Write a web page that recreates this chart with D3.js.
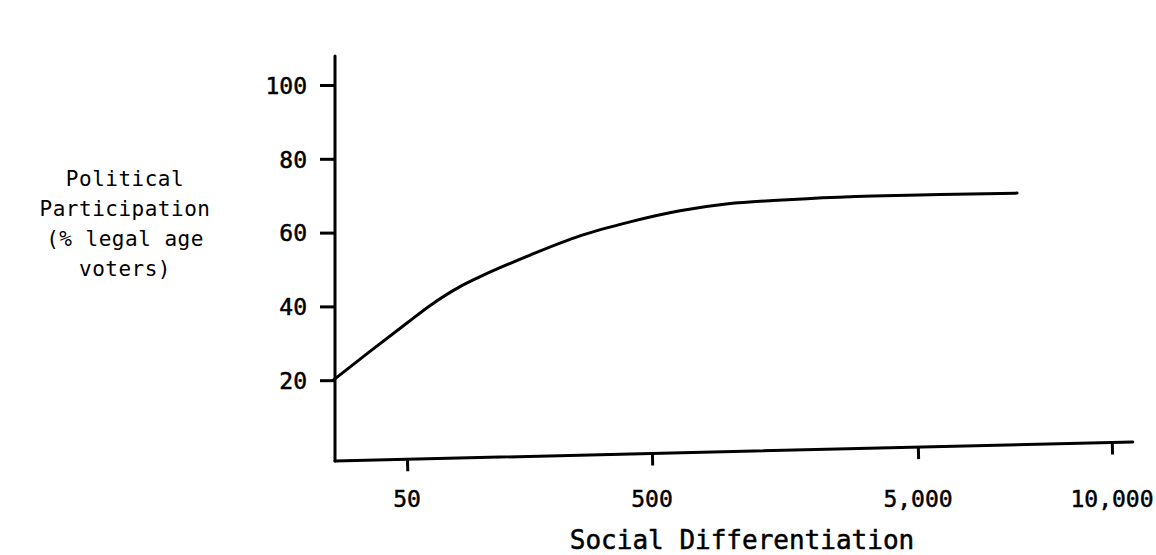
<!DOCTYPE html>
<html>
<head>
<meta charset="utf-8">
<script src="https://cdn.jsdelivr.net/npm/d3@7"></script>
<style>
  html, body { margin: 0; padding: 0; background: #fff; }
  svg { display: block; }
  text { font-family: "DejaVu Sans Mono", "Liberation Mono", monospace; fill: #000; }
</style>
</head>
<body>
<svg id="chart" width="1156" height="555"></svg>
<script>
// Social differentiation (x) against political participation (y)
const socialDiff    = [25, 35, 50, 62, 82, 99, 159, 254, 407, 637, 966, 1426, 1914, 3389, 5411, 7122];
const participation = [20, 27.6, 35.5, 40.2, 45.3, 48.0, 53.9, 59.1, 62.9, 65.9, 67.8, 68.7, 69.2, 69.9, 70.3, 70.7];

const xTicks = [50, 500, 5000, 10000];
const xTickLabels = ["50", "500", "5,000", "10,000"];
const yTicks = [20, 40, 60, 80, 100];
const yTickLabels = ["20", "40", "60", "80", "100"];

const yTitleLines = ["Political", "Participation", "(% legal age", "voters)"];
const xTitle = "Social Differentiation";

const svg = d3.select("#chart");

// Axis frame
const axisX0 = 335, axisX1 = 1133;   // horizontal extent of the x-axis rule
const axisTop = 56, axisBottom = 461; // vertical extent of the y-axis rule
const xTilt = -1.36;                  // the baseline runs slightly uphill

// The printed scale is logarithmic within each span between labelled ticks
const x = d3.scaleLog()
  .domain(xTicks)
  .range([407, 652, 918, 1112]);

const y = d3.scaleLinear()
  .domain([0, 100])
  .range([454, 85]);

const stroke = 3;

// y axis
const gy = svg.append("g").attr("transform", `translate(${axisX0},0)`);
gy.call(d3.axisLeft(y)
    .tickValues(yTicks)
    .tickFormat((d, i) => yTickLabels[i])
    .tickSize(15)
    .tickPadding(13));
gy.select(".domain").remove();
gy.selectAll(".tick line").attr("stroke", "#000").attr("stroke-width", stroke);
gy.selectAll(".tick text")
  .style("font-size", "23px")
  .attr("stroke", "#000").attr("stroke-width", 0.5)
  .attr("dy", "0.36em");

// axis rules (L-shaped corner)
svg.append("path")
  .attr("d", `M${axisX0},${axisTop} L${axisX0},${axisBottom}`)
  .attr("stroke", "#000").attr("stroke-width", stroke).attr("fill", "none")
  .attr("stroke-linecap", "round");

const gxRot = svg.append("g")
  .attr("transform", `rotate(${xTilt},${axisX0},${axisBottom})`);
gxRot.append("line")
  .attr("x1", axisX0).attr("x2", axisX1)
  .attr("y1", axisBottom).attr("y2", axisBottom)
  .attr("stroke", "#000").attr("stroke-width", stroke)
  .attr("stroke-linecap", "round");
const gx = gxRot.append("g").attr("transform", `translate(0,${axisBottom})`);
gx.call(d3.axisBottom(x).tickValues(xTicks).tickFormat("").tickSize(12).tickSizeOuter(0));
gx.select(".domain").remove();
gx.selectAll(".tick line").attr("stroke", "#000").attr("stroke-width", stroke);

// x tick labels sit level beneath the ticks
svg.append("g").selectAll("text")
  .data(xTicks)
  .join("text")
  .attr("x", d => x(d))
  .attr("y", 507)
  .attr("text-anchor", "middle")
  .style("font-size", "23px")
  .attr("stroke", "#000").attr("stroke-width", 0.5)
  .text((d, i) => xTickLabels[i]);

// x title
svg.append("text")
  .attr("x", 742)
  .attr("y", 549)
  .attr("text-anchor", "middle")
  .style("font-size", "26px")
  .attr("stroke", "#000").attr("stroke-width", 0.5)
  .text(xTitle);

// y title
svg.append("g").selectAll("text")
  .data(yTitleLines)
  .join("text")
  .attr("x", 125)
  .attr("y", (d, i) => 186 + i * 30)
  .attr("text-anchor", "middle")
  .style("font-size", "21px")
  .style("letter-spacing", "0.5px")
  .text(d => d);

// curve
const pts = socialDiff.map((v, i) => [v, participation[i]]);
svg.append("path")
  .datum(pts)
  .attr("d", d3.line().x(d => x(d[0])).y(d => y(d[1])).curve(d3.curveMonotoneX))
  .attr("fill", "none")
  .attr("stroke", "#000")
  .attr("stroke-width", stroke)
  .attr("stroke-linecap", "round");
</script>
</body>
</html>
